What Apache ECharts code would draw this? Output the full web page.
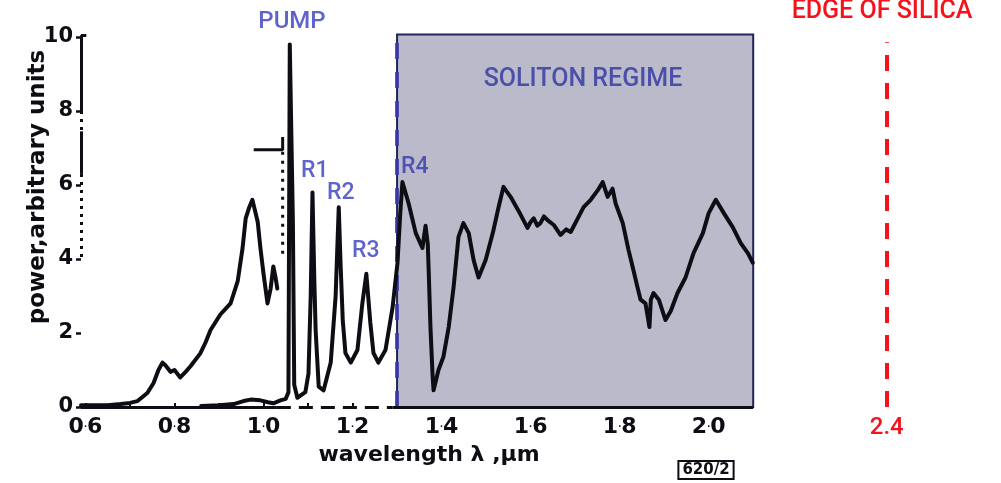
<!DOCTYPE html>
<html>
<head>
<meta charset="utf-8">
<script src="https://cdn.jsdelivr.net/npm/echarts@6/dist/echarts.min.js"></script>
<style>
  html, body { margin: 0; padding: 0; background: #ffffff; }
  #chart { width: 1001px; height: 483px; }
</style>
</head>
<body>
<div id="chart"></div>
<script>
// Spectrum traces as [wavelength (µm), power (arbitrary units)]
const upperTrace = [
  [0.59, 0.05], [0.65, 0.05], [0.679, 0.08], [0.70, 0.11], [0.717, 0.16], [0.739, 0.38],
  [0.753, 0.65], [0.764, 1.0], [0.773, 1.2], [0.780, 1.12], [0.791, 0.95], [0.800, 1.0],
  [0.813, 0.8], [0.825, 0.95], [0.836, 1.1], [0.858, 1.45], [0.870, 1.75], [0.881, 2.08],
  [0.903, 2.5], [0.926, 2.8], [0.942, 3.4], [0.953, 4.3], [0.960, 5.1], [0.968, 5.4],
  [0.975, 5.6], [0.981, 5.3], [0.987, 5.0], [0.993, 4.3], [1.000, 3.6], [1.009, 2.8],
  [1.016, 3.2], [1.022, 3.8], [1.027, 3.5], [1.031, 3.2]
];

const mainTrace = [
  [0.86, 0.03], [0.90, 0.05], [0.933, 0.08], [0.955, 0.16], [0.971, 0.2], [0.993, 0.18],
  [1.010, 0.13], [1.022, 0.1], [1.038, 0.18], [1.050, 0.22], [1.056, 0.4],
  [1.059, 9.8], [1.063, 9.85], [1.066, 5.0], [1.069, 0.6], [1.076, 0.25], [1.094, 0.4],
  [1.101, 0.9], [1.106, 3.0], [1.110, 5.8], [1.114, 3.5], [1.117, 2.1], [1.124, 0.55],
  [1.135, 0.45], [1.151, 1.2], [1.162, 3.0], [1.169, 5.4], [1.173, 3.9], [1.178, 2.35],
  [1.184, 1.46], [1.196, 1.2], [1.211, 1.54], [1.222, 2.8], [1.231, 3.6], [1.240, 2.27],
  [1.247, 1.46], [1.258, 1.2], [1.274, 1.54], [1.290, 2.7], [1.301, 3.9], [1.307, 5.2],
  [1.312, 6.08], [1.326, 5.5], [1.342, 4.7], [1.357, 4.3], [1.364, 4.9], [1.369, 4.4],
  [1.371, 3.7], [1.375, 2.16], [1.380, 0.8], [1.382, 0.45], [1.393, 1.0], [1.404, 1.35],
  [1.416, 2.16], [1.427, 3.24], [1.438, 4.6], [1.449, 4.97], [1.461, 4.7], [1.472, 3.97],
  [1.483, 3.5], [1.499, 3.97], [1.515, 4.7], [1.528, 5.4], [1.539, 5.95], [1.555, 5.68],
  [1.573, 5.3], [1.593, 4.84], [1.600, 5.0], [1.607, 5.1], [1.615, 4.9], [1.622, 4.97],
  [1.630, 5.15], [1.638, 5.05], [1.652, 4.92], [1.667, 4.65], [1.680, 4.8], [1.690, 4.73],
  [1.706, 5.1], [1.719, 5.4], [1.735, 5.6], [1.751, 5.86], [1.762, 6.08], [1.773, 5.68],
  [1.784, 5.9], [1.791, 5.5], [1.807, 4.97], [1.820, 4.24], [1.829, 3.8], [1.840, 3.24],
  [1.847, 2.9], [1.858, 2.8], [1.867, 2.16], [1.870, 2.9], [1.876, 3.08], [1.888, 2.9],
  [1.903, 2.35], [1.915, 2.6], [1.930, 3.08], [1.948, 3.5], [1.966, 4.16], [1.987, 4.7],
  [2.000, 5.24], [2.016, 5.6], [2.034, 5.24], [2.054, 4.86], [2.072, 4.43], [2.088, 4.16],
  [2.099, 3.9]
];

// Scale-change marker beside the pump line
const scaleMarker = [[0.978, 6.95], [1.043, 6.95], [1.043, 7.3]];
const scaleMarkerDots = [[1.043, 6.9], [1.043, 4.0]];

// Axis ticks and labels
const xTickLabels = [0.6, 0.8, 1.0, 1.2, 1.4, 1.6, 1.8, 2.0];
const xMinorTicks = [0.6, 0.7, 0.8, 0.9, 1.0, 1.1, 1.2, 1.3, 1.4, 1.5, 1.6, 1.7, 1.8, 1.9, 2.0, 2.1];
const yTickLabels = [0, 2, 4, 6, 8, 10];

// Shaded soliton regime and the silica edge
const solitonStart = 1.3;
const solitonEnd = 2.1;
const solitonTop = 10.07;
const silicaEdge = 2.4;
const silicaEdgeTop = 9.86;

const X_MIN = 0.59, X_MAX = 2.45, Y_MIN = 0, Y_MAX = 10.1;

const INK = '#0d0d14';
const NAVY = '#23235c';
const ANNOT = '#5f64cc';
const RED = '#f5121c';
const TRACE_WIDTH = 4;

function seg(a, b, style) {
  return [{ coord: a, lineStyle: style }, { coord: b }];
}

const chart = echarts.init(document.getElementById('chart'), null, { renderer: 'canvas' });

const solidAxis = { color: INK, width: 3, type: 'solid' };
const dottedAxis = { color: INK, width: 3, type: [3, 5] };

chart.setOption({
  animation: false,
  backgroundColor: '#ffffff',
  grid: { left: 81, right: 92, top: 33.3, bottom: 76, containLabel: false },
  xAxis: {
    type: 'value', min: X_MIN, max: X_MAX,
    axisLine: { show: false },
    splitLine: { show: false },
    axisTick: {
      show: true, inside: true, length: 4, customValues: xMinorTicks,
      lineStyle: { color: INK, width: 2 }
    },
    axisLabel: {
      show: true, margin: 9, customValues: xTickLabels.concat([silicaEdge]),
      formatter: function (v) {
        if (Math.abs(v - silicaEdge) < 1e-6) return '{edge|' + v.toFixed(1) + '}';
        const s = v.toFixed(1).split('.');
        return '{d|' + s[0] + '}{p|·}{d|' + s[1] + '}';
      },
      rich: {
        d: { fontFamily: 'DejaVu Sans', fontWeight: 'bold', fontSize: 22, color: INK },
        p: { fontFamily: 'DejaVu Sans', fontWeight: 'bold', fontSize: 8, color: INK },
        edge: { fontFamily: 'Roboto', fontWeight: 500, fontSize: 24, color: RED }
      }
    }
  },
  yAxis: {
    type: 'value', min: Y_MIN, max: Y_MAX,
    axisLine: { show: false },
    splitLine: { show: false },
    axisTick: {
      show: true, inside: false, length: 5, customValues: yTickLabels,
      lineStyle: { color: INK, width: 2.5 }
    },
    axisLabel: {
      show: true, margin: 8, customValues: yTickLabels,
      fontFamily: 'DejaVu Sans', fontWeight: 'bold', fontSize: 21, color: INK
    }
  },
  series: [
    {
      name: 'soliton regime', type: 'line', data: [[solitonStart, 0]],
      showSymbol: false, silent: true, clip: false, z: 1,
      lineStyle: { opacity: 0 },
      markArea: {
        silent: true,
        itemStyle: { color: '#babaca', borderColor: NAVY, borderWidth: 2 },
        data: [[{ coord: [solitonStart, 0] }, { coord: [solitonEnd, solitonTop] }]]
      },
      markLine: {
        silent: true, symbol: 'none', animation: false,
        label: { show: false },
        data: [
          seg([solitonStart, 0], [solitonStart, solitonTop],
              { color: '#3b3bab', width: 4, type: [16, 13], opacity: 0.85 })
        ]
      }
    },
    {
      name: 'axes', type: 'line', data: [[X_MIN, 0]],
      showSymbol: false, silent: true, clip: false, z: 4,
      lineStyle: { opacity: 0 },
      markLine: {
        silent: true, symbol: 'none', animation: false,
        label: { show: false },
        data: [
          seg([X_MIN, 0], [1.03, 0], solidAxis),
          seg([1.03, 0], [1.29, 0], { color: INK, width: 3, type: [14, 8] }),
          seg([1.29, 0], [solitonEnd, 0], solidAxis),
          seg([X_MIN, 10.05], [X_MIN, 8.0], solidAxis),
          seg([X_MIN + 0.012, 10.05], [X_MIN, 10.05], solidAxis),
          seg([X_MIN, 8.0], [X_MIN, 7.45], dottedAxis),
          seg([X_MIN, 7.45], [X_MIN, 6.3], solidAxis),
          seg([X_MIN, 6.3], [X_MIN, 4.0], dottedAxis)
        ]
      }
    },
    {
      name: 'silica edge', type: 'line', data: [[silicaEdge, 0]],
      showSymbol: false, silent: true, clip: false, z: 4,
      lineStyle: { opacity: 0 },
      markLine: {
        silent: true, symbol: 'none', animation: false,
        label: { show: false },
        data: [seg([silicaEdge, 0], [silicaEdge, silicaEdgeTop],
                   { color: RED, width: 4, type: [16, 12] })]
      }
    },
    {
      name: 'upper trace', type: 'line', data: upperTrace,
      showSymbol: false, smooth: false, z: 5, clip: false,
      lineStyle: { color: INK, width: TRACE_WIDTH, join: 'round', cap: 'round' }
    },
    {
      name: 'spectrum', type: 'line', data: mainTrace,
      showSymbol: false, smooth: false, z: 5, clip: false,
      lineStyle: { color: INK, width: TRACE_WIDTH, join: 'round', cap: 'round' }
    },
    {
      name: 'scale marker', type: 'line', data: scaleMarker,
      showSymbol: false, z: 5, clip: false,
      lineStyle: { color: INK, width: 3 }
    },
    {
      name: 'scale marker dots', type: 'line', data: scaleMarkerDots,
      showSymbol: false, z: 5, clip: false,
      lineStyle: { color: INK, width: 3, type: [3, 6] }
    }
  ],
  graphic: [
    {
      type: 'text', silent: true,
      x: 38, y: 187, rotation: Math.PI / 2,
      style: {
        text: 'power,arbitrary units',
        fontFamily: 'DejaVu Sans', fontWeight: 'bold', fontSize: 23,
        fill: INK, align: 'center', verticalAlign: 'middle'
      }
    },
    {
      type: 'text', silent: true, x: 429, y: 455,
      style: {
        text: 'wavelength λ ,µm', fontFamily: 'DejaVu Sans', fontWeight: 'bold',
        fontSize: 22, fill: INK, align: 'center', verticalAlign: 'middle'
      }
    },
    {
      type: 'text', silent: true, x: 706, y: 470,
      style: {
        text: '620/2', fontFamily: 'DejaVu Sans', fontWeight: 'bold', fontSize: 15,
        fill: INK, align: 'center', verticalAlign: 'middle',
        borderColor: INK, borderWidth: 2, padding: [2, 4, 1, 4]
      }
    },
    {
      type: 'text', silent: true, x: 292, y: 22,
      style: { text: 'PUMP', fontFamily: 'Roboto', fontWeight: 500, fontSize: 24,
               fill: ANNOT, align: 'center', verticalAlign: 'middle' }
    },
    {
      type: 'text', silent: true, x: 301, y: 171,
      style: { text: 'R1', fontFamily: 'Roboto', fontWeight: 500, fontSize: 23,
               fill: ANNOT, align: 'left', verticalAlign: 'middle' }
    },
    {
      type: 'text', silent: true, x: 327, y: 193,
      style: { text: 'R2', fontFamily: 'Roboto', fontWeight: 500, fontSize: 23,
               fill: ANNOT, align: 'left', verticalAlign: 'middle' }
    },
    {
      type: 'text', silent: true, x: 352, y: 251,
      style: { text: 'R3', fontFamily: 'Roboto', fontWeight: 500, fontSize: 23,
               fill: ANNOT, align: 'left', verticalAlign: 'middle' }
    },
    {
      type: 'text', silent: true, x: 401, y: 167, z: 10,
      style: { text: 'R4', fontFamily: 'Roboto', fontWeight: 500, fontSize: 23,
               fill: '#4e52b2', align: 'left', verticalAlign: 'middle' }
    },
    {
      type: 'text', silent: true, x: 583, y: 80, z: 10,
      style: { text: 'SOLITON REGIME', fontFamily: 'Roboto', fontWeight: 500, fontSize: 25,
               fill: '#4a4fa8', align: 'center', verticalAlign: 'middle' }
    },
    {
      type: 'text', silent: true, x: 882, y: 12,
      style: { text: 'EDGE OF SILICA', fontFamily: 'Roboto', fontWeight: 500, fontSize: 25,
               fill: RED, align: 'center', verticalAlign: 'middle' }
    }
  ]
});
</script>
</body>
</html>
